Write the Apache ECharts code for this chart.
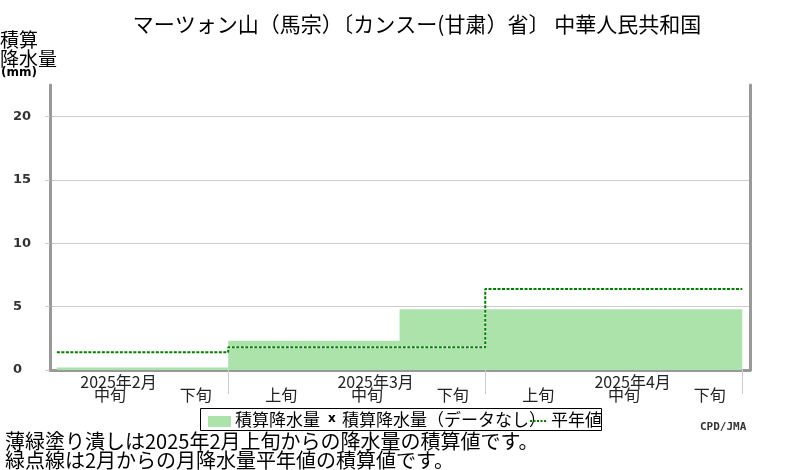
<!DOCTYPE html>
<html><head><meta charset="utf-8">
<script src="https://cdn.jsdelivr.net/npm/echarts@6/dist/echarts.min.js"></script>
<style>html,body{margin:0;padding:0;background:#fff}#c{width:800px;height:470px}</style>
</head><body><div id="c"></div>
<script>
const titleText = 'マーツォン山（馬宗）〔カンスー(甘粛）省〕 中華人民共和国';
const dekadLabels = ['中旬','下旬','上旬','中旬','下旬','上旬','中旬','下旬'];
const monthLabels = ['2025年2月','2025年3月','2025年4月'];
const monthStartDekad = [-1, 2, 5];   // first dekad index of each month (Feb 上旬 = -1, before the shown range)
const accumPrecip = [0.2, 0.2, 2.3, 2.3, 4.8, 4.8, 4.8, 4.8];   // per dekad, mm
const normalAccum = [1.4, 1.8, 6.4];  // accumulated monthly normal, mm
const yTicks = [0, 5, 10, 15, 20];
const footnotes = ['薄緑塗り潰しは2025年2月上旬からの降水量の積算値です。','緑点線は2月からの月降水量平年値の積算値です。'];

const FONT = '"Noto Sans CJK JP", "Noto Sans", sans-serif';
const nD = dekadLabels.length;

const accData = accumPrecip.map((v, i) => [i, v]);
accData.push([nD, accumPrecip[nD - 1]]);

const normData = normalAccum.map((v, i) => [Math.max(monthStartDekad[i], 0), v]);
normData.push([nD, normalAccum[normalAccum.length - 1]]);

const dekadPos = dekadLabels.map((_, i) => i + 0.62);
const monthPos = monthStartDekad.map(s => s + 1.5 + 0.22);

const chart = echarts.init(document.getElementById('c'), null, {renderer: 'canvas'});
const xMin = -0.08, xMax = 8.09;
chart.setOption({
  animation: false,
  grid: {left: 50, right: 50, top: 85, bottom: 100},
  xAxis: [{
    type: 'value', min: xMin, max: xMax, position: 'bottom',
    axisLine: {show: true, onZero: false, lineStyle: {color: '#999', width: 3}},
    axisTick: {show: true, customValues: [2, 5, 8], length: 24, lineStyle: {color: '#ccc', width: 1}},
    splitLine: {show: false},
    axisLabel: {show: true, customValues: dekadPos, margin: 17, fontSize: 16, color: '#222', fontFamily: FONT,
      formatter: v => dekadLabels[Math.round(v - 0.62)] || ''}
  }, {
    type: 'value', min: xMin, max: xMax, position: 'bottom',
    axisLine: {show: false, onZero: false}, axisTick: {show: false}, splitLine: {show: false},
    axisLabel: {show: true, customValues: monthPos, margin: 4, fontSize: 16, color: '#222', fontFamily: FONT,
      formatter: v => { const i = monthPos.findIndex(p => Math.abs(p - v) < 0.01); return i >= 0 ? monthLabels[i] : ''; }}
  }],
  yAxis: [{
    type: 'value', min: 0, max: 22.5, interval: 5, position: 'left',
    axisLine: {show: true, onZero: false, lineStyle: {color: '#999', width: 3}},
    axisTick: {show: true, customValues: yTicks, length: 5, lineStyle: {color: '#ccc'}},
    splitLine: {show: true, lineStyle: {color: '#ccc', width: 1}},
    axisLabel: {customValues: yTicks, align: 'left', margin: 37, fontSize: 13, fontWeight: 'bold', color: '#333',
      fontFamily: '"DejaVu Sans", sans-serif'}
  }, {
    type: 'value', min: 0, max: 22.5, position: 'right',
    axisLine: {show: true, onZero: false, lineStyle: {color: '#999', width: 3}},
    axisTick: {show: false}, axisLabel: {show: false}, splitLine: {show: false}
  }],
  series: [{
    name: '積算降水量', type: 'line', step: 'end', data: accData, showSymbol: false,
    lineStyle: {width: 0}, areaStyle: {color: '#abe3ab', opacity: 1}, z: 2
  }, {
    name: 'normal-under', type: 'line', step: 'end', data: normData, showSymbol: false,
    lineStyle: {color: '#fff', width: 2}, z: 3
  }, {
    name: '平年値', type: 'line', step: 'end', data: normData, showSymbol: false,
    lineStyle: {color: '#008000', width: 2, type: [3, 1.5]}, z: 4
  }],
  graphic: [
    {type: 'text', x: 417, y: 24, style: {text: titleText, font: '21px ' + FONT, fill: '#000', align: 'center', verticalAlign: 'middle'}},
    {type: 'text', x: 0, y: 40, style: {text: '積算', font: '19px ' + FONT, fill: '#000', verticalAlign: 'middle'}},
    {type: 'text', x: 0, y: 59, style: {text: '降水量', font: '19px ' + FONT, fill: '#000', verticalAlign: 'middle'}},
    {type: 'text', x: 1, y: 73, style: {text: '(mm)', font: 'bold 12px "DejaVu Sans", sans-serif', fill: '#000', verticalAlign: 'middle'}},
    {type: 'rect', shape: {x: 200.5, y: 408.5, width: 401, height: 22}, style: {fill: '#fff', stroke: '#000', lineWidth: 1}, z: 10},
    {type: 'rect', shape: {x: 208, y: 416, width: 23, height: 11}, style: {fill: '#abe3ab'}, z: 11},
    {type: 'text', x: 235, y: 420, style: {text: '積算降水量', font: '17px ' + FONT, fill: '#000', verticalAlign: 'middle'}, z: 11},
    {type: 'text', x: 328, y: 419, style: {text: 'x', font: 'bold 12px "DejaVu Sans", sans-serif', fill: '#000', verticalAlign: 'middle'}, z: 11},
    {type: 'text', x: 342, y: 420, style: {text: '積算降水量（データなし）', font: '17px ' + FONT, fill: '#000', verticalAlign: 'middle'}, z: 11},
    {type: 'line', shape: {x1: 530, y1: 421, x2: 547, y2: 421}, style: {stroke: '#008000', lineWidth: 2, lineDash: [2, 1.5]}, z: 12},
    {type: 'text', x: 551, y: 420, style: {text: '平年値', font: '17px ' + FONT, fill: '#000', verticalAlign: 'middle'}, z: 11},
    {type: 'text', x: 700, y: 427, style: {text: 'CPD/JMA', font: 'bold 11px "DejaVu Sans Mono", monospace', fill: '#333', verticalAlign: 'middle'}},
    {type: 'text', x: 5, y: 441, style: {text: footnotes[0], font: '20px ' + FONT, fill: '#000', verticalAlign: 'middle'}, z: 12},
    {type: 'text', x: 5, y: 460, style: {text: footnotes[1], font: '20px ' + FONT, fill: '#000', verticalAlign: 'middle'}, z: 12}
  ]
});
</script></body></html>
